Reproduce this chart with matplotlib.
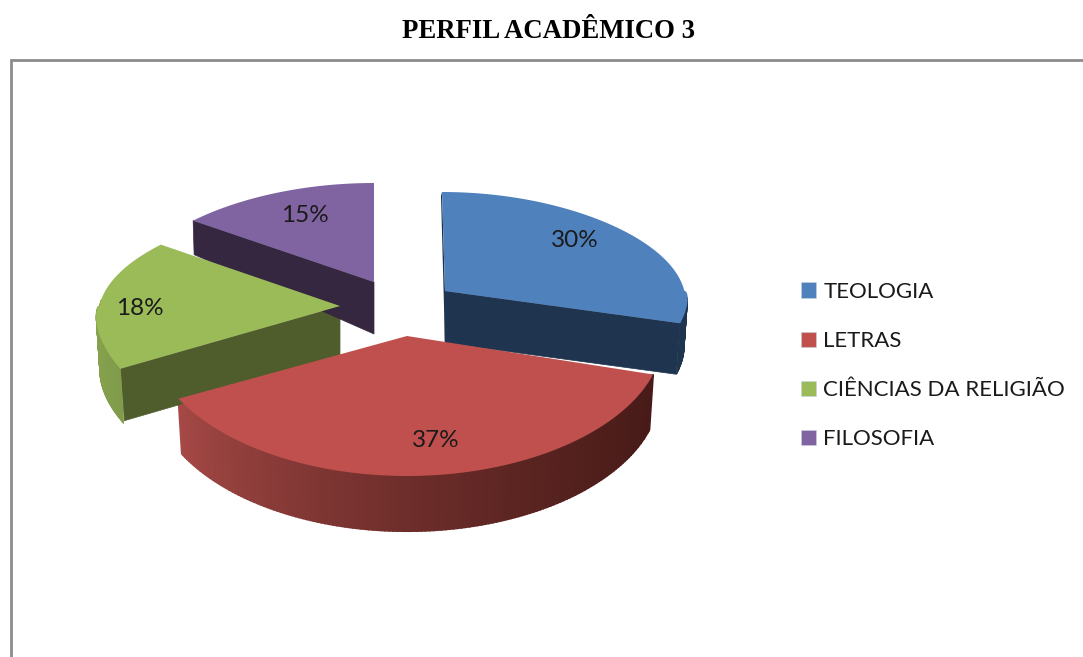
import numpy as np
import matplotlib
matplotlib.use("Agg")
import matplotlib.pyplot as plt
from matplotlib.colors import to_rgb
from matplotlib.patches import Patch, Polygon

# data
categories = ["TEOLOGIA", "LETRAS", "CIÊNCIAS DA RELIGIÃO", "FILOSOFIA"]
values = [30, 37, 18, 15]
title = "PERFIL ACADÊMICO 3"

# colours
top_colors = ["#4F81BD", "#C0504D", "#9BBB59", "#8064A2"]
wall_colors = ["#1F344E", "#C0504D", "#4F5D2C", "#35273F"]
rim_left = ["#1F344E", "#A84A47", "#86A24E", "#6B5488"]
rim_right = ["#1F344E", "#481B18", "#7A9546", "#35273F"]

# layout, in image pixels
apex_x = [445, 407, 340, 374]
apex_y = [291, 336, 306, 282]
rx_scale = [0.985, 1.03, 0.99, 1]
near_exp = [1.25, 1.1, 1.1, 1.1]
rim_extra = [-1, 3, 3, 0]
rim_start = [-0.08, 0.05, 0.05, 0.05]
depth = 52
rx = 243
ry_far = 99
ry_near = 140
shrink = 0.136

# percent label position as a fraction of the way out to the rim
label_fx = [0.73, 1.16, 0.84, 0.71]
label_fy = [0.83, 0.75, -0.3, 0.75]


def rim_xy(theta, scale=1, exp=1.1):
    # theta in degrees, clockwise from 12 o'clock; far side is squashed
    t = np.radians(theta)
    c = np.cos(t)
    s = np.where(c > 0, 1 - shrink * c, 1 + 0.06 * np.sqrt(np.abs(c)))
    x = scale * rx * np.sin(t) * s
    y = np.where(c > 0, -ry_far * np.abs(c) ** 0.9, ry_near * np.abs(c) ** exp)
    return x, y


def mix(a, b, f):
    a, b = np.array(to_rgb(a)), np.array(to_rgb(b))
    return tuple(a + (b - a) * f)


fig = plt.figure(figsize=(10.83, 6.57), dpi=100)
ax = fig.add_axes([0, 0, 1, 1])
ax.set_xlim(0, 1083)
ax.set_ylim(657, 0)
ax.axis("off")

# frame, open at right and bottom
ax.plot([11, 11, 1083], [657, 60, 60], color="#8C8C8C", lw=2, solid_joinstyle="miter")

ax.text(549, 31, title, family="Liberation Serif", weight="bold", fontsize=19.3,
        ha="center", va="center", color="black")

edges = np.concatenate([[0], np.cumsum(values)]) * 360 / sum(values)

# back slices first so the nearer ones cover them
for i in [3, 0, 2, 1]:
    cx, cy = apex_x[i], apex_y[i]
    th = np.linspace(edges[i], edges[i + 1], 150)
    x, y = rim_xy(th, rx_scale[i], near_exp[i])
    x, y = x + cx, y + cy
    if i == 0:
        # far corner of the blue slice leans slightly to the left
        x = x - 3 * np.clip(cy - y, 0, None) / ry_far

    # flat cut walls that face the viewer
    if i == 0:
        ax.add_patch(Polygon([(x[-1], y[-1]), (x[-1] - 4, y[-1] + depth - 1), (cx, cy + depth), (cx, cy)],
                             fc=wall_colors[i], ec=wall_colors[i], lw=0.5, zorder=2 + i))
        ax.add_patch(Polygon([(x[0], y[0]), (cx, cy), (cx, cy + depth), (x[0] - 1, y[0] + 4)],
                             fc=wall_colors[i], ec="none", zorder=2 + i))
    if i == 2:
        ax.add_patch(Polygon([(x[0], y[0]), (x[0] + 4, y[0] + depth), (cx, cy + depth), (cx, cy)],
                             fc=wall_colors[i], ec=wall_colors[i], lw=0.5, zorder=2 + i))
    if i == 3:
        ax.add_patch(Polygon([(x[0], y[0]), (x[0] + 1, y[0] + 34), (cx, cy + depth), (cx, cy)],
                             fc=wall_colors[i], ec=wall_colors[i], lw=0.5, zorder=2 + i))

    # outer rim with a left to right shade
    for j in range(len(th) - 1):
        # only the part curving towards the viewer shows
        if np.cos(np.radians(th[j])) > rim_start[i]:
            continue
        f = ((x[j] - x.min()) / max(x.max() - x.min(), 1)) ** 0.7
        col = mix(rim_left[i], rim_right[i], f)
        # base of the rim pulls in a little towards the centre of the pie
        pull = 0.985
        bx0 = cx + (x[j] - cx) * pull
        bx1 = cx + (x[j + 1] - cx) * pull
        h = depth + rim_extra[i]
        ax.add_patch(Polygon([(x[j], y[j]), (x[j + 1], y[j + 1]), (bx1, y[j + 1] + h), (bx0, y[j] + h)],
                             fc=col, ec=col, lw=1.5 if i == 1 else 0.5, zorder=2 + i))

    # top face
    ax.add_patch(Polygon(np.column_stack([np.r_[cx, x], np.r_[cy, y]]), fc=top_colors[i],
                         ec="none", zorder=8 if i == 1 else 3 + i))

# percent labels inside each slice
for i, v in enumerate(values):
    mid = (edges[i] + edges[i + 1]) / 2
    lx, ly = rim_xy(mid, rx_scale[i], near_exp[i])
    ax.text(apex_x[i] + lx * label_fx[i], apex_y[i] + ly * label_fy[i], f"{v}%", family="Lato", fontsize=17.5,
            ha="center", va="center", color="#1A1A1A", zorder=10)

handles = [Patch(fc=c, ec="#C8D4E0", lw=0.4) for c in top_colors]
ax.legend(handles, categories, loc="center left", bbox_to_anchor=(801 / 1083, 1 - 365.5 / 657), frameon=False,
          prop={"family": "Lato", "size": 16}, handlelength=0.68, handleheight=0.68, handletextpad=0.32,
          labelspacing=1.31, borderpad=0, borderaxespad=0, labelcolor="#1A1A1A")

fig.savefig("out.png", dpi=100)
